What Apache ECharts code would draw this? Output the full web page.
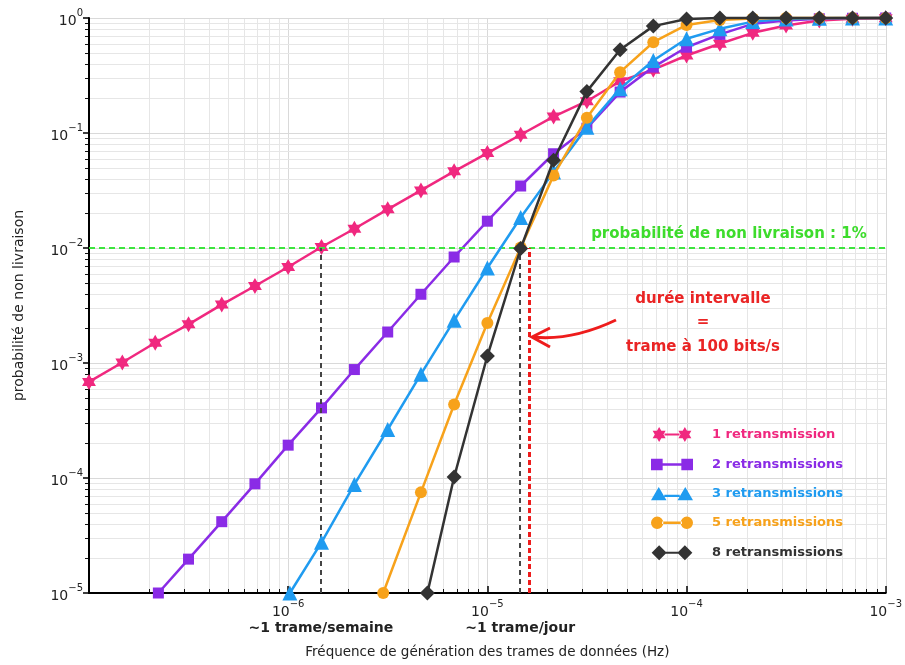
<!DOCTYPE html>
<html>
<head>
<meta charset="utf-8">
<script src="https://cdn.jsdelivr.net/npm/echarts@6/dist/echarts.min.js"></script>
<style>
html,body{margin:0;padding:0;background:#fff;}
#chart{width:905px;height:665px;}
</style>
</head>
<body>
<div id="chart"></div>
<script>
// ---------------- data ----------------
const seriesNames = ['1 retransmission', '2 retransmissions', '3 retransmissions', '5 retransmissions', '8 retransmissions'];

const pinkX = [1.0e-7, 1.47e-7, 2.15e-7, 3.16e-7, 4.64e-7, 6.81e-7, 1.0e-6, 1.47e-6, 2.15e-6, 3.16e-6, 4.64e-6, 6.81e-6, 1.0e-5, 1.47e-5, 2.15e-5, 3.16e-5, 4.64e-5, 6.81e-5, 1.0e-4, 1.47e-4, 2.15e-4, 3.16e-4, 4.64e-4, 6.81e-4, 1.0e-3];
const pinkY = [6.85e-4, 1.01e-3, 1.5e-3, 2.17e-3, 3.22e-3, 4.67e-3, 6.84e-3, 1.02e-2, 1.47e-2, 2.17e-2, 3.17e-2, 4.64e-2, 6.69e-2, 9.66e-2, 0.139, 0.189, 0.282, 0.355, 0.472, 0.597, 0.743, 0.86, 0.95, 0.985, 0.995];

const purpleX = [2.23e-7, 3.16e-7, 4.64e-7, 6.81e-7, 1.0e-6, 1.47e-6, 2.15e-6, 3.16e-6, 4.64e-6, 6.81e-6, 1.0e-5, 1.47e-5, 2.15e-5, 3.16e-5, 4.64e-5, 6.81e-5, 1.0e-4, 1.47e-4, 2.15e-4, 3.16e-4, 4.64e-4, 6.81e-4, 1.0e-3];
const purpleY = [1.0e-5, 1.97e-5, 4.17e-5, 8.9e-5, 1.93e-4, 4.07e-4, 8.77e-4, 1.86e-3, 3.96e-3, 8.35e-3, 1.71e-2, 3.46e-2, 6.6e-2, 0.11, 0.227, 0.374, 0.557, 0.72, 0.89, 0.95, 0.985, 0.995, 1.0];

const blueX = [1.02e-6, 1.47e-6, 2.15e-6, 3.16e-6, 4.64e-6, 6.81e-6, 1.0e-5, 1.47e-5, 2.15e-5, 3.16e-5, 4.64e-5, 6.81e-5, 1.0e-4, 1.47e-4, 2.15e-4, 3.16e-4, 4.64e-4, 6.81e-4, 1.0e-3];
const blueY = [1.0e-5, 2.76e-5, 8.8e-5, 2.64e-4, 8.0e-4, 2.35e-3, 6.7e-3, 1.84e-2, 4.57e-2, 0.112, 0.243, 0.427, 0.66, 0.805, 0.93, 0.98, 0.995, 1.0, 1.0];

const orangeX = [3.0e-6, 4.64e-6, 6.81e-6, 1.0e-5, 1.47e-5, 2.15e-5, 3.16e-5, 4.64e-5, 6.81e-5, 1.0e-4, 1.47e-4, 2.15e-4, 3.16e-4, 4.64e-4, 6.81e-4, 1.0e-3];
const orangeY = [1.0e-5, 7.5e-5, 4.36e-4, 2.23e-3, 1.01e-2, 4.28e-2, 0.136, 0.338, 0.616, 0.87, 0.96, 0.99, 1.0, 1.0, 1.0, 1.0];

const blackX = [5.0e-6, 6.81e-6, 1.0e-5, 1.47e-5, 2.15e-5, 3.16e-5, 4.64e-5, 6.81e-5, 1.0e-4, 1.47e-4, 2.15e-4, 3.16e-4, 4.64e-4, 6.81e-4, 1.0e-3];
const blackY = [1.0e-5, 1.02e-4, 1.15e-3, 9.9e-3, 5.8e-2, 0.23, 0.53, 0.85, 0.98, 1.0, 1.0, 1.0, 1.0, 1.0, 1.0];

// reference lines
const threshold = 0.01;
const weekFreq = 1.46e-6;
const dayFreq = 1.46e-5;
const bitrateFreq = 1.63e-5;

// axes
const xDecades = [-7, -6, -5, -4, -3];
const yDecades = [-5, -4, -3, -2, -1, 0];
const xHiddenLabelExp = [-7];

// --------------- style ---------------
const FONT = 'DejaVu Sans';
const colors = ['#f0287f', '#8a2be6', '#1f9bf0', '#f7a21b', '#333333'];
const STAR = 'path://M0,-100L29,-50L87,-50L58,0L87,50L29,50L0,100L-29,50L-87,50L-58,0L-87,-50L-29,-50Z';
const symbols = [STAR, 'rect', 'triangle', 'circle', 'diamond'];
const symbolSizes = [16, 11, 15, 12, 15];
const legendIcons = [
  'path://M7,0L9.02,3.5L13.06,3.5L11.04,7L13.06,10.5L9.02,10.5L7,14L4.98,10.5L0.94,10.5L2.96,7L0.94,3.5L4.98,3.5Z M31,0L33.02,3.5L37.06,3.5L35.04,7L37.06,10.5L33.02,10.5L31,14L28.98,10.5L24.94,10.5L26.96,7L24.94,3.5L28.98,3.5Z M12,6h14v2h-14z',
  'path://M1,2h10v10h-10z M27,2h10v10h-10z M11,6h16v2h-16z',
  'path://M0,13L7,1L14,13Z M24,13L31,1L38,13Z M12,8h14v2h-14z',
  'path://M2,7a5,5 0 1,0 10,0a5,5 0 1,0 -10,0Z M26,7a5,5 0 1,0 10,0a5,5 0 1,0 -10,0Z M11,6h16v2h-16z',
  'path://M0,7L7,0L14,7L7,14Z M24,7L31,0L38,7L31,14Z M13,6h12v2h-12z'
];

function zip(xs, ys) { return xs.map((x, i) => [x, ys[i]]); }
const allData = [zip(pinkX, pinkY), zip(purpleX, purpleY), zip(blueX, blueY), zip(orangeX, orangeY), zip(blackX, blackY)];

function supText(v) {
  const e = Math.round(Math.log10(v));
  return e < 0 ? '\u2212' + (-e) : String(e);
}
const richLabel = {
  b: { fontSize: 14, fontFamily: FONT, color: '#222', lineHeight: 20, verticalAlign: 'bottom' },
  s: { fontSize: 10, fontFamily: FONT, color: '#222', lineHeight: 12, verticalAlign: 'top' }
};

// grid values (every 1..9 × decade)
const gridXVals = [];
for (let i = 0; i < xDecades.length - 1; i++) {
  for (let m = 1; m <= 9; m++) {
    if (i === 0 && m === 1) continue;
    gridXVals.push([m * Math.pow(10, xDecades[i]), 0.5]);
  }
}
gridXVals.push([Math.pow(10, xDecades[xDecades.length - 1]), 0.5]);
const gridYVals = [];
for (let i = 0; i < yDecades.length - 1; i++) {
  for (let m = 1; m <= 9; m++) {
    if (i === 0 && m === 1) continue;
    gridYVals.push([1e-4, m * Math.pow(10, yDecades[i])]);
  }
}
gridYVals.push([1e-4, Math.pow(10, yDecades[yDecades.length - 1])]);

function isMajor(v) {
  const lg = Math.log10(v);
  return Math.abs(lg - Math.round(lg)) < 1e-6;
}

const series = [];
series.push({
  type: 'custom', name: 'gridX', silent: true, z: 0, data: gridXVals,
  renderItem: function (params, api) {
    const cs = params.coordSys;
    const v = api.value(0);
    const x = Math.round(api.coord([v, 0.5])[0]) + 0.5;
    const children = [{
      type: 'line', shape: { x1: x, y1: cs.y, x2: x, y2: cs.y + cs.height },
      style: { stroke: isMajor(v) ? '#d9d9d9' : '#e6e6e6', lineWidth: 1 }
    }];
    if (!isMajor(v)) {
      children.push({ type: 'line', shape: { x1: x, y1: cs.y + cs.height, x2: x, y2: cs.y + cs.height - 4 }, style: { stroke: '#111', lineWidth: 1 } });
    }
    return { type: 'group', children: children };
  }
});
series.push({
  type: 'custom', name: 'gridY', silent: true, z: 0, data: gridYVals,
  renderItem: function (params, api) {
    const cs = params.coordSys;
    const v = api.value(1);
    const y = Math.round(api.coord([1e-4, v])[1]) + 0.5;
    const children = [{
      type: 'line', shape: { x1: cs.x, y1: y, x2: cs.x + cs.width, y2: y },
      style: { stroke: isMajor(v) ? '#d9d9d9' : '#e6e6e6', lineWidth: 1 }
    }];
    if (!isMajor(v)) {
      children.push({ type: 'line', shape: { x1: cs.x - 4, y1: y, x2: cs.x + 1, y2: y }, style: { stroke: '#111', lineWidth: 1 } });
    }
    return { type: 'group', children: children };
  }
});

// reference lines
const grayDash = { color: '#444', type: [5, 4], width: 2 };
const bottomLabel = (txt) => ({
  show: true, position: 'start', formatter: txt, distance: 28,
  color: '#222', fontWeight: 'bold', fontSize: 14, fontFamily: FONT
});
series.push({
  type: 'line', name: 'refs', data: [], z: 1, silent: true,
  markLine: {
    silent: true, symbol: 'none', animation: false,
    data: [
      {
        yAxis: threshold,
        lineStyle: { color: '#3de53d', type: [6, 4], width: 2 },
        label: {
          show: true, position: 'insideEndTop', formatter: 'probabilité de non livraison : 1%',
          color: '#3ddc2c', fontWeight: 'bold', fontSize: 15, fontFamily: FONT,
          distance: 6, padding: [0, 13, 0, 0]
        }
      },
      [{ coord: [weekFreq, 1e-5], lineStyle: grayDash, label: bottomLabel('~1 trame/semaine') }, { coord: [weekFreq, threshold] }],
      [{ coord: [dayFreq, 1e-5], lineStyle: grayDash, label: bottomLabel('~1 trame/jour') }, { coord: [dayFreq, threshold] }],
      [{ coord: [bitrateFreq, 1e-5], lineStyle: { color: '#ee1c1c', type: [5, 3], width: 3 }, label: { show: false } }, { coord: [bitrateFreq, threshold] }]
    ]
  }
});

seriesNames.forEach((name, i) => {
  series.push({
    type: 'line', name: name, data: allData[i],
    symbol: symbols[i], symbolSize: symbolSizes[i], symbolKeepAspect: true,
    showAllSymbol: true, clip: false, z: 3 + i,
    lineStyle: { color: colors[i], width: 2.5 },
    itemStyle: { color: colors[i] },
    emphasis: { disabled: true },
    animation: false
  });
});

const redFont = 'bold 15px "DejaVu Sans"';
const chart = echarts.init(document.getElementById('chart'), null, { renderer: 'canvas' });
chart.setOption({
  backgroundColor: '#fff',
  animation: false,
  textStyle: { fontFamily: FONT },
  grid: { left: 89, right: 18, top: 18, bottom: 72, containLabel: false },
  xAxis: {
    type: 'log', logBase: 10, min: 1e-7, max: 1e-3,
    name: 'Fréquence de génération des trames de données (Hz)',
    nameLocation: 'middle', nameGap: 52,
    nameTextStyle: { fontSize: 13.5, color: '#222', fontFamily: FONT },
    axisLine: { lineStyle: { color: '#000', width: 2 } },
    axisTick: { inside: true, length: 7, lineStyle: { color: '#000', width: 1.5 } },
    splitLine: { show: false },
    minorTick: { show: false }, minorSplitLine: { show: false },
    axisLabel: {
      margin: 6,
      formatter: function (v) {
        const e = Math.round(Math.log10(v));
        if (xHiddenLabelExp.indexOf(e) >= 0) return '';
        return '{b|10}{s|' + supText(v) + '}';
      },
      rich: richLabel
    }
  },
  yAxis: {
    type: 'log', logBase: 10, min: 1e-5, max: 1,
    name: 'probabilité de non livraison',
    nameLocation: 'middle', nameGap: 63, nameRotate: 90,
    nameTextStyle: { fontSize: 14, color: '#222', fontFamily: FONT },
    axisLine: { lineStyle: { color: '#000', width: 2 } },
    axisTick: { inside: false, length: 6, lineStyle: { color: '#000', width: 1.5 } },
    splitLine: { show: false },
    minorTick: { show: false }, minorSplitLine: { show: false },
    axisLabel: {
      margin: 6,
      formatter: function (v) { return '{b|10}{s|' + supText(v) + '}'; },
      rich: richLabel
    }
  },
  legend: {
    orient: 'vertical', left: 646, top: 422,
    itemWidth: 42, itemHeight: 15, itemGap: 16,
    selectedMode: false,
    textStyle: { fontSize: 13, fontWeight: 'bold', fontFamily: FONT, padding: [0, 0, 0, 14] },
    data: seriesNames.map((n, i) => ({ name: n, icon: legendIcons[i], itemStyle: { color: colors[i] }, textStyle: { color: colors[i] } }))
  },
  graphic: [
    {
      type: 'bezierCurve', silent: true, z: 50,
      shape: { x1: 616, y1: 320, cpx1: 572, cpy1: 341, x2: 533, y2: 337 },
      style: { stroke: '#ee1c1c', lineWidth: 3, fill: null }
    },
    {
      type: 'polyline', silent: true, z: 50,
      shape: { points: [[550, 328], [532, 337], [550, 347]] },
      style: { stroke: '#ee1c1c', lineWidth: 3, fill: null }
    },
    { type: 'text', silent: true, z: 50,
      style: { x: 703, y: 299, text: 'durée intervalle', align: 'center', verticalAlign: 'middle', fill: '#ea2424', font: redFont } },
    { type: 'text', silent: true, z: 50,
      style: { x: 703, y: 322, text: '=', align: 'center', verticalAlign: 'middle', fill: '#ea2424', font: redFont } },
    { type: 'text', silent: true, z: 50,
      style: { x: 703, y: 347, text: 'trame à 100 bits/s', align: 'center', verticalAlign: 'middle', fill: '#ea2424', font: redFont } }
  ],
  series: series
});
</script>
</body>
</html>
